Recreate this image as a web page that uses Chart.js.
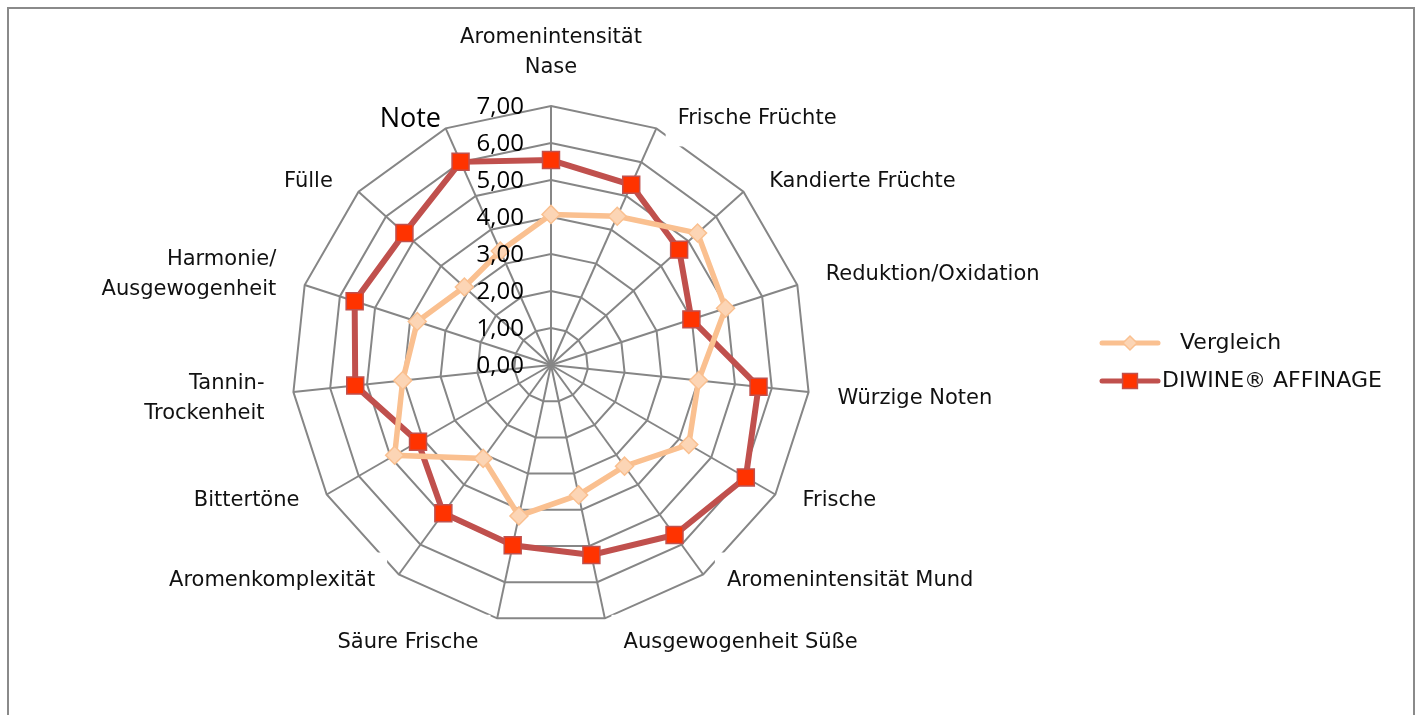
<!DOCTYPE html>
<html>
<head>
<meta charset="utf-8">
<script src="https://cdn.jsdelivr.net/npm/chart.js@4.4.0/dist/chart.umd.min.js"></script>
<style>
  html, body { margin: 0; padding: 0; background: #fff; overflow: hidden; }
  #rahmen { position: absolute; left: 7px; top: 7px; width: 1404px; height: 800px; border: 2px solid #8a8a8a; }
  #wrap { position: absolute; left: 0; top: 0; width: 1419px; height: 715px; }
</style>
</head>
<body>
<div id="rahmen"></div>
<div id="wrap"><canvas id="netz" width="1419" height="715"></canvas></div>
<script>
// Kategorien (15 Achsen, die letzte ohne Beschriftung)
const kategorien = [
  ['Aromenintensität', 'Nase'],
  'Frische Früchte',
  'Kandierte Früchte',
  'Reduktion/Oxidation',
  'Würzige Noten',
  'Frische',
  'Aromenintensität Mund',
  'Ausgewogenheit Süße',
  'Säure Frische',
  'Aromenkomplexität',
  'Bittertöne',
  ['Tannin-', 'Trockenheit'],
  ['Harmonie/', 'Ausgewogenheit'],
  'Fülle',
  ''
];
const vergleich = [4.07, 4.40, 5.33, 4.96, 4.01, 4.30, 3.38, 3.59, 4.17, 3.12, 4.88, 4.03, 3.80, 3.15, 3.37];
const diwine = [5.54, 5.33, 4.66, 3.99, 5.64, 6.08, 5.68, 5.25, 4.98, 4.95, 4.15, 5.32, 5.58, 5.33, 6.01];
const tickWerte = [0, 1, 2, 3, 4, 5, 6, 7];
const achsenTitel = 'Note';
const serienNamen = ['Vergleich', 'DIWINE® AFFINAGE'];

// Beschriftungen, Achsenwerte und Legende selbst zeichnen
const beschriftung = {
  id: 'beschriftung',
  afterDatasetsDraw(chart) {
    const ctx = chart.ctx;
    const r = chart.scales.r;
    ctx.save();

    // Kategorien mit weissem Hintergrund (wie Excel)
    ctx.font = '21px "DejaVu Sans"';
    ctx.textBaseline = 'middle';
    chart.data.labels.forEach((lab, i) => {
      const zeilen = Array.isArray(lab) ? lab : [lab];
      if (!zeilen.join('')) return;
      const a = r.getIndexAngle(i);
      const sa = Math.sin(a), ca = Math.cos(a);
      const p = r.getPointPosition(i, r.drawingArea);
      const zh = 30;
      const h = (zeilen.length - 1) * zh + 20;
      let x = p.x, y;
      let align = 'center';
      if (Math.abs(sa) > 0.1) {
        align = sa > 0 ? 'left' : 'right';
        x = p.x + Math.sign(sa) * (16 + 13 * Math.abs(sa));
      }
      if (Math.abs(ca) > 0.95) {
        y = p.y - ca * (h / 2 + (ca > 0 ? 28 : 15));
      } else {
        y = p.y + (ca > 0.1 ? -10 : 6);
      }
      const w = Math.max(...zeilen.map(z => ctx.measureText(z).width));
      const bx = align === 'left' ? x : align === 'right' ? x - w : x - w / 2;
      ctx.fillStyle = '#fff';
      ctx.fillRect(bx - 12, y - h / 2 - 18, w + 24, h + 36);
      ctx.fillStyle = '#111';
      ctx.textAlign = align;
      zeilen.forEach((z, k) => ctx.fillText(z, x, y - h / 2 + 10 + k * zh));
    });

    // Achsenwerte links neben der senkrechten Achse
    ctx.font = '24px "Open Sans"';
    ctx.textAlign = 'right';
    ctx.fillStyle = '#000';
    tickWerte.forEach(v => {
      const y = r.yCenter - r.getDistanceFromCenterForValue(v);
      ctx.fillText(v.toFixed(2).replace('.', ','), r.xCenter - 27, y + 1);
    });

    // Achsentitel
    ctx.font = '27px "Open Sans"';
    ctx.fillText(achsenTitel, r.xCenter - 110, r.yCenter - r.drawingArea + 13);

    // Legende
    const lx = 1102, ly = 343, abstand = 38;
    const einzug = [18, 0];
    ctx.font = '22px "DejaVu Sans"';
    ctx.textAlign = 'left';
    chart.data.datasets.forEach((ds, k) => {
      const y = ly + k * abstand;
      ctx.strokeStyle = ds.borderColor;
      ctx.lineWidth = 5;
      ctx.lineCap = 'round';
      ctx.beginPath();
      ctx.moveTo(lx, y);
      ctx.lineTo(lx + 56, y);
      ctx.stroke();
      ctx.fillStyle = ds.pointBackgroundColor;
      ctx.strokeStyle = ds.pointBorderColor;
      ctx.lineWidth = 1.5;
      Chart.helpers.drawPoint(ctx, {
        pointStyle: ds.pointStyle,
        radius: ds.pointStyle === 'rect' ? 10.5 : 7,
        borderWidth: 1.5,
        rotation: 0
      }, lx + 28, y);
      ctx.fillStyle = '#111';
      ctx.fillText(ds.label, lx + 60 + einzug[k], y);
    });
    ctx.restore();
  }
};

new Chart(document.getElementById('netz'), {
  type: 'radar',
  data: {
    labels: kategorien,
    datasets: [
      {
        label: serienNamen[0],
        data: vergleich,
        borderColor: '#FAC090',
        borderWidth: 5.5,
        pointStyle: 'rectRot',
        pointRadius: 9,
        pointBackgroundColor: '#FCD5B5',
        pointBorderColor: '#FAC090',
        pointBorderWidth: 1.5,
        fill: false
      },
      {
        label: serienNamen[1],
        data: diwine,
        borderColor: '#C0504D',
        borderWidth: 6,
        pointStyle: 'rect',
        pointRadius: 12,
        pointBackgroundColor: '#FF3300',
        pointBorderColor: '#C0504D',
        pointBorderWidth: 1.5,
        fill: false
      }
    ]
  },
  options: {
    responsive: false,
    animation: false,
    events: [],
    layout: { padding: { left: 292, top: 106, right: 609, bottom: 91 } },
    elements: { line: { tension: 0 } },
    plugins: { legend: { display: false }, tooltip: { enabled: false } },
    scales: {
      r: {
        min: 0,
        max: 7,
        ticks: { stepSize: 1, display: false },
        grid: { color: '#868686', lineWidth: 2 },
        angleLines: { color: '#868686', lineWidth: 2 },
        pointLabels: { display: false }
      }
    }
  },
  plugins: [beschriftung]
});
</script>
</body>
</html>
